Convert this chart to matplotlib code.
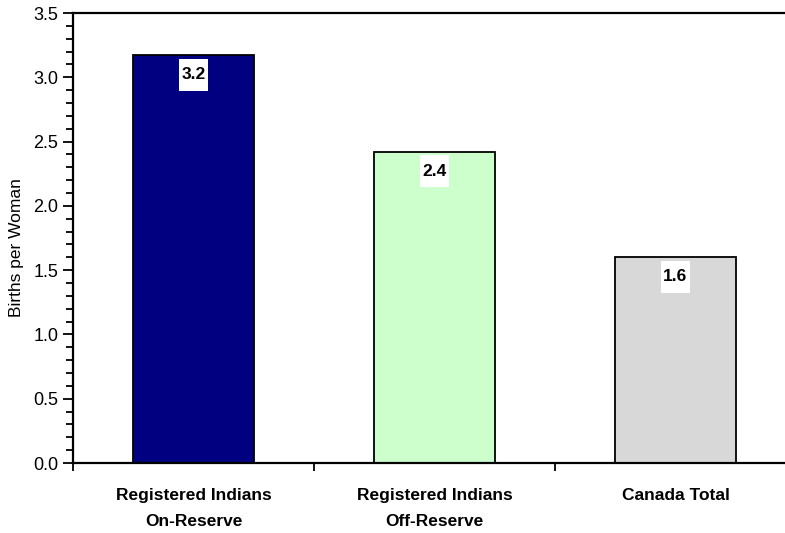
import matplotlib
matplotlib.use("Agg")
import matplotlib.pyplot as plt
from matplotlib.path import Path
from matplotlib.ticker import MultipleLocator, FixedLocator, NullFormatter

categories = ["Registered Indians\nOn-Reserve", "Registered Indians\nOff-Reserve", "Canada Total"]
births_per_woman = [3.17, 2.42, 1.60]
bar_colors = ["#000080", "#CCFFCC", "#D8D8D8"]

plt.rcParams["font.family"] = ["Liberation Sans", "DejaVu Sans"]


def label_box(x0, y0, width, height, mutation_size):
    # white box around the value label, taller than it is wide
    px, py = 0.15 * mutation_size, 0.5 * mutation_size
    x0, y0 = x0 - px, y0 - py
    x1, y1 = x0 + width + 2 * px, y0 + height + 2 * py
    return Path([(x0, y0), (x1, y0), (x1, y1), (x0, y1), (x0, y0)],
                [Path.MOVETO, Path.LINETO, Path.LINETO, Path.LINETO, Path.CLOSEPOLY])


def main():
    fig = plt.figure(figsize=(7.85, 5.33), dpi=100)
    ax = fig.add_axes([73 / 785, 1 - 463 / 533, (796 - 73) / 785, 450 / 533])

    x = range(len(categories))
    ax.bar(x, births_per_woman, width=0.5, color=bar_colors,
           edgecolor="black", linewidth=1.3, zorder=2)

    for i, v in enumerate(births_per_woman):
        ax.annotate(f"{v:.1f}", xy=(i, v), xytext=(0, -14), textcoords="offset points",
                    ha="center", va="center", fontsize=12.5, fontweight="bold",
                    bbox=dict(boxstyle=label_box, fc="white", ec="none"), zorder=3)

    ax.set_xlim(-0.5, 2.5)
    ax.set_ylim(0, 3.5)

    # y axis: labelled majors every 0.5, minors every 0.1
    ax.yaxis.set_major_locator(MultipleLocator(0.5))
    ax.yaxis.set_minor_locator(MultipleLocator(0.1))
    ax.yaxis.set_major_formatter(plt.FuncFormatter(lambda v, p: f"{v:.1f}"))
    ax.tick_params(axis="y", which="major", length=7, width=1.3, labelsize=13, pad=3.5)
    ax.tick_params(axis="y", which="minor", length=5, width=1.3)

    # x axis: labels at bar centres, tick marks between categories
    ax.set_xticks(list(x))
    ax.set_xticklabels(categories, fontweight="bold", fontsize=12.5, linespacing=1.95)
    ax.xaxis.set_minor_locator(FixedLocator([-0.5, 0.5, 1.5, 2.5]))
    ax.xaxis.set_minor_formatter(NullFormatter())
    ax.tick_params(axis="x", which="major", length=0, pad=18)
    ax.tick_params(axis="x", which="minor", length=6, width=1.3)

    ax.set_ylabel("Births per Woman", fontsize=12.5, labelpad=7, y=0.478)

    for side in ["left", "top", "bottom"]:
        ax.spines[side].set_linewidth(1.6)
    ax.spines["right"].set_visible(False)

    fig.savefig("out.png", dpi=100)


if __name__ == "__main__":
    main()
